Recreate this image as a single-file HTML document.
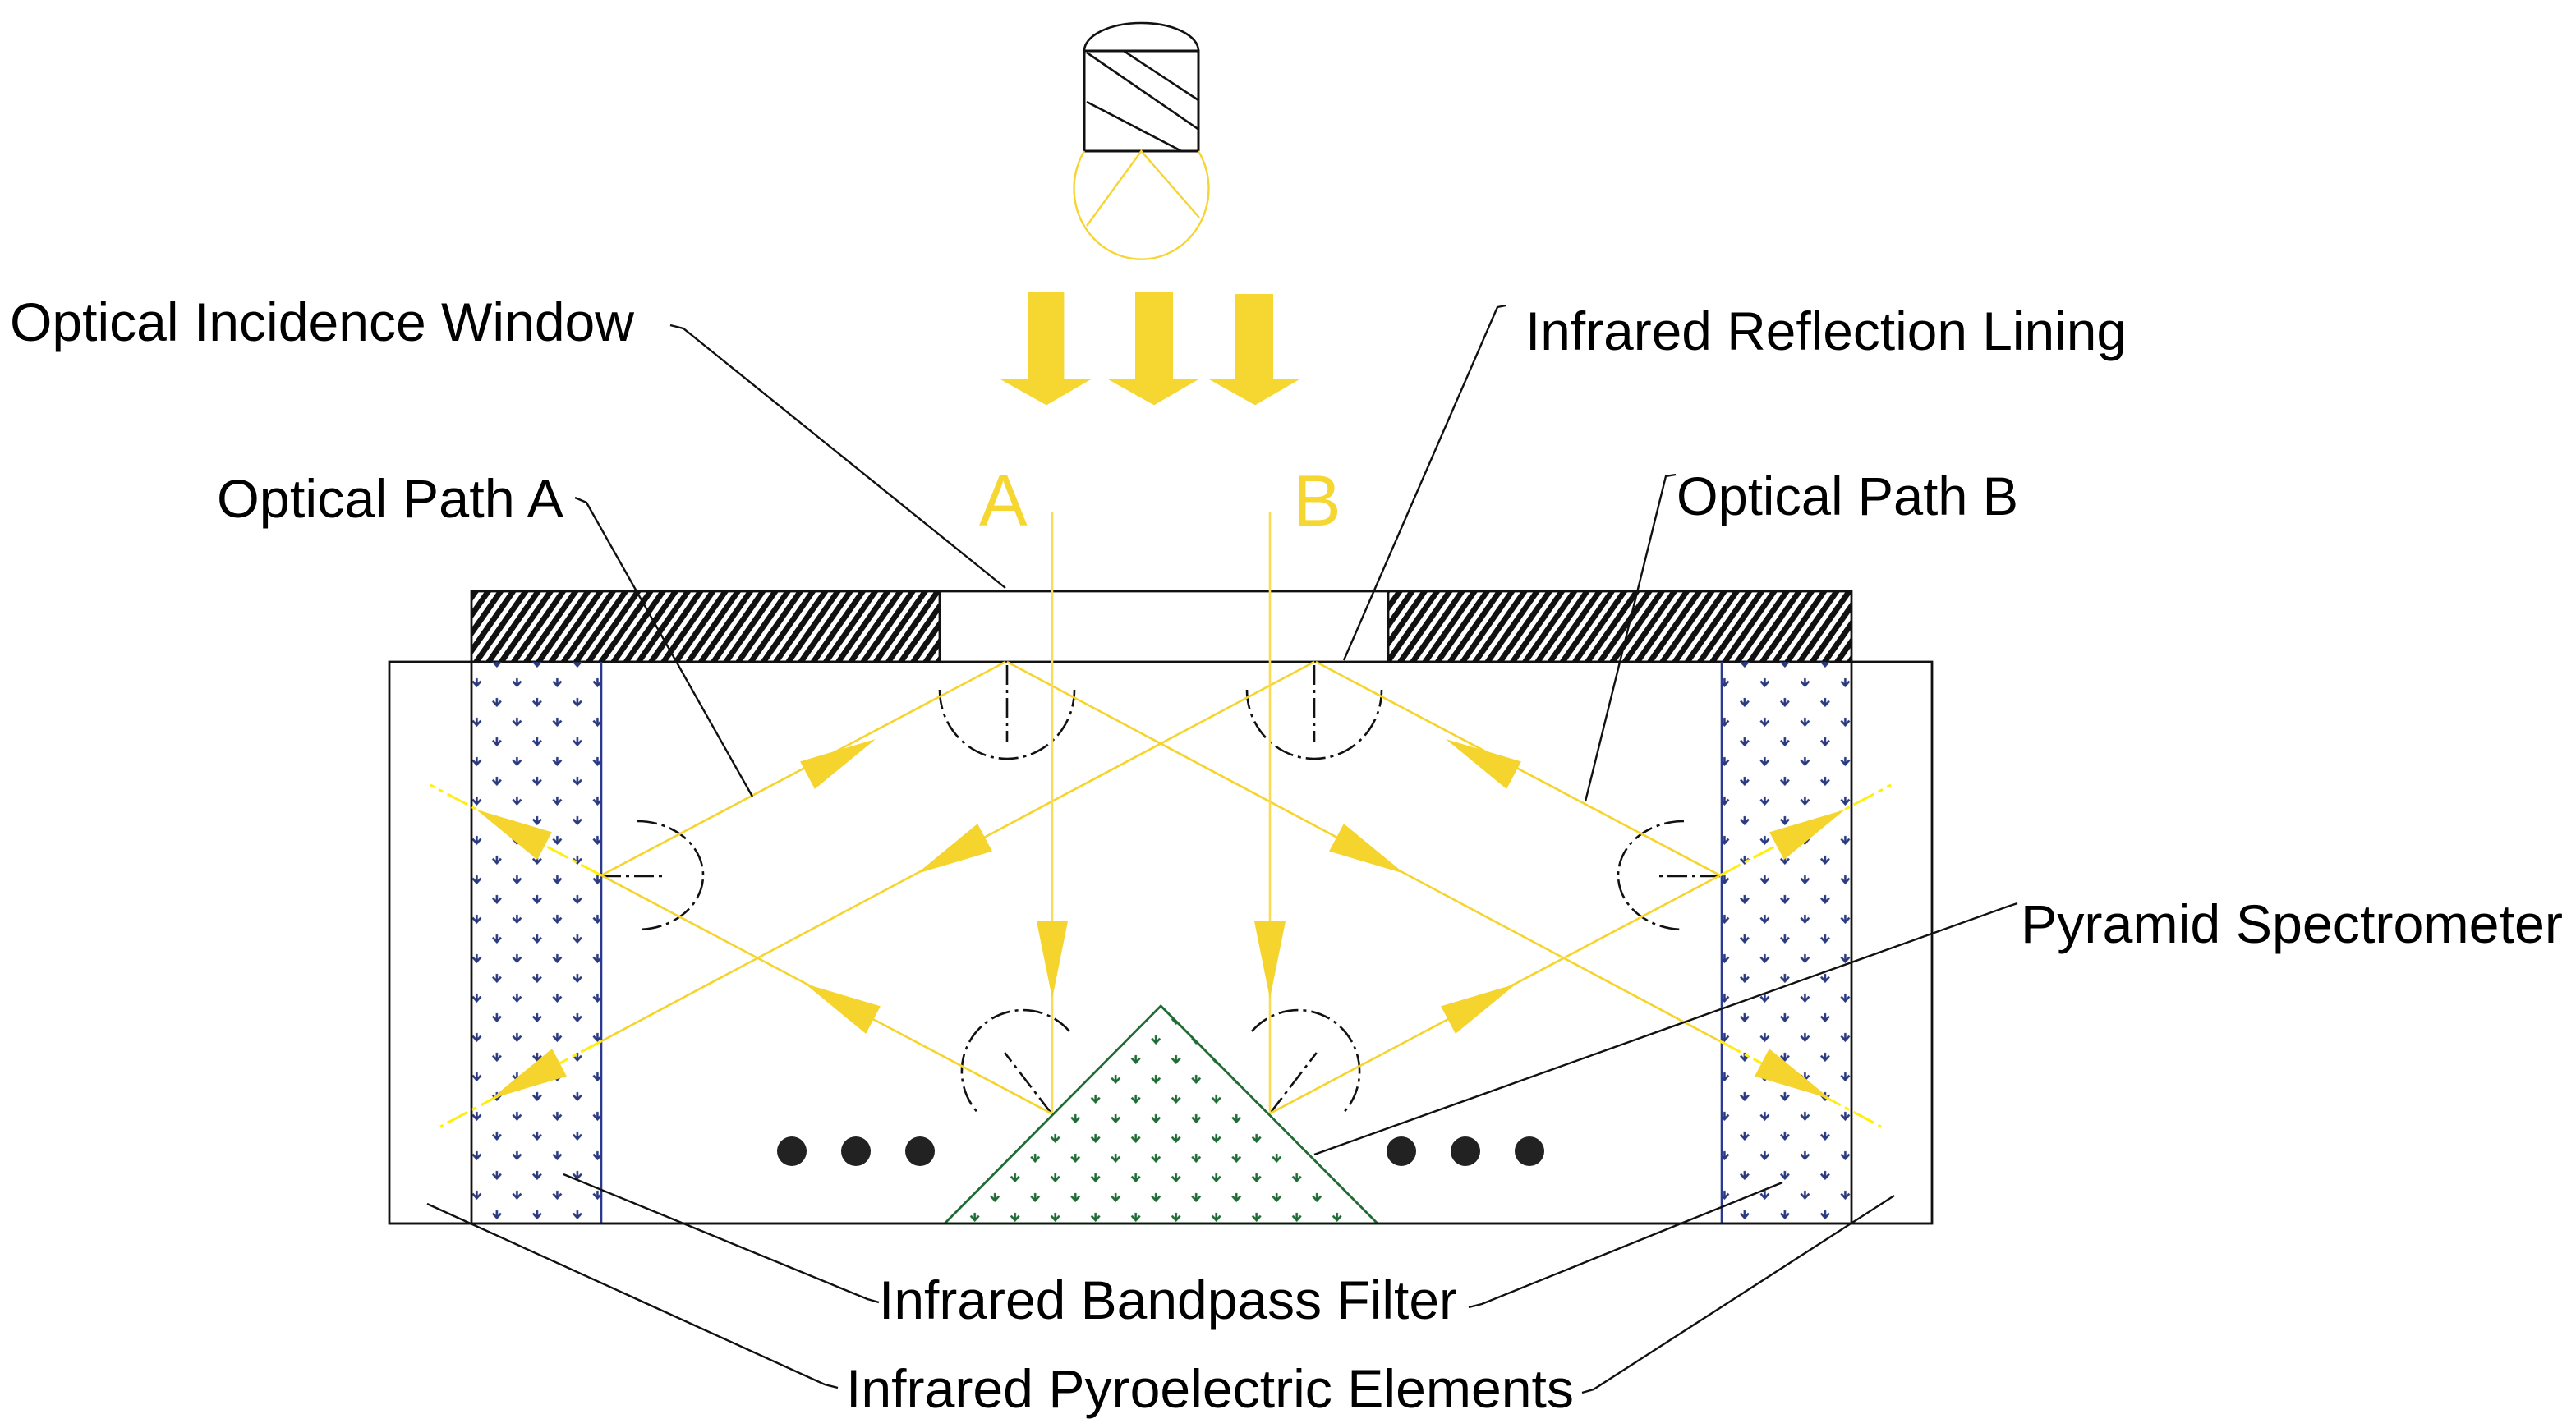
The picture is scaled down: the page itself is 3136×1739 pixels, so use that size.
<!DOCTYPE html>
<html><head><meta charset="utf-8"><style>
html,body{margin:0;padding:0;background:#fff;}
svg{display:block;}
text{font-family:"Liberation Sans",Arial,sans-serif;fill:#000;}
</style></head><body>
<svg width="3136" height="1739" viewBox="0 0 1568 869.5" xmlns="http://www.w3.org/2000/svg">
<defs>
<pattern id="hatch" patternUnits="userSpaceOnUse" width="7.6" height="20" patternTransform="skewX(-35)">
<rect x="0" y="0" width="4.2" height="20" fill="#111"/>
</pattern>
<pattern id="blue" patternUnits="userSpaceOnUse" x="1049.7" y="535.8" width="24.5" height="24">
<g stroke="#2B3A80" stroke-width="1.3" fill="none">
<path d="M-2.5,-1 L0,1.8 L2.5,-1 M0,-2.8 V1.8"/>
<path d="M22,-1 L24.5,1.8 L27,-1 M24.5,-2.8 V1.8"/>
<path d="M-2.5,23 L0,25.8 L2.5,23 M0,21.2 V25.8"/>
<path d="M22,23 L24.5,25.8 L27,23 M24.5,21.2 V25.8"/>
<path d="M9.75,11 L12.25,13.8 L14.75,11 M12.25,9.2 V13.8"/>
</g>
</pattern>
<pattern id="green" patternUnits="userSpaceOnUse" x="703.6" y="633.3" width="24.5" height="24">
<g stroke="#1E6B34" stroke-width="1.3" fill="none">
<path d="M-2.5,-1 L0,1.8 L2.5,-1 M0,-2.8 V1.8"/>
<path d="M22,-1 L24.5,1.8 L27,-1 M24.5,-2.8 V1.8"/>
<path d="M-2.5,23 L0,25.8 L2.5,23 M0,21.2 V25.8"/>
<path d="M22,23 L24.5,25.8 L27,23 M24.5,21.2 V25.8"/>
<path d="M9.75,11 L12.25,13.8 L14.75,11 M12.25,9.2 V13.8"/>
</g>
</pattern>
<polygon id="ah" points="0,0 -47,-9.5 -47,9.5" fill="#F5D42E"/>
</defs>

<!-- lamp -->
<path d="M660,31 A34.75,17 0 0 1 729.5,31" fill="none" stroke="#111" stroke-width="1.3"/>
<rect x="660" y="31" width="69.5" height="61" fill="none" stroke="#111" stroke-width="1.5"/>
<g stroke="#111" stroke-width="1.3">
<line x1="661.5" y1="32" x2="729.5" y2="78.7"/>
<line x1="684" y1="31" x2="729.5" y2="61"/>
<line x1="661.5" y1="62" x2="718.6" y2="91.7"/>
</g>
<path d="M660,92 A41,43 0 1 0 729.5,92" fill="none" stroke="#F6D532" stroke-width="1.2"/>
<polyline points="661.5,137.5 694.7,92 730,132.5" fill="none" stroke="#F6D532" stroke-width="1.2"/>

<!-- big arrows -->
<g fill="#F6D732">
<polygon points="625.5,178 647.7,178 647.7,231 664,231 637,246.7 609,231 625.5,231"/>
<polygon points="691,178 714,178 714,231 729.5,231 702.5,246.7 674.5,231 691,231"/>
<polygon points="752,179 775,179 775,231 791,231 764,246.7 736,231 752,231"/>
</g>

<!-- A / B -->
<text x="596" y="320" font-size="44" fill="#F6D732" style="fill:#F6D732">A</text>
<text x="787" y="320" font-size="44" style="fill:#F6D732">B</text>

<!-- housing -->
<rect x="237" y="403" width="939" height="342" fill="none" stroke="#111" stroke-width="1.4"/>
<rect x="287" y="360" width="285" height="43" fill="url(#hatch)" stroke="#111" stroke-width="1.4"/>
<rect x="845" y="360" width="282" height="43" fill="url(#hatch)" stroke="#111" stroke-width="1.4"/>
<line x1="572" y1="360" x2="845" y2="360" stroke="#111" stroke-width="1.4"/>

<!-- filters -->
<rect x="287" y="403" width="79" height="342" fill="url(#blue)" stroke="none"/>
<rect x="1048" y="403" width="79" height="342" fill="url(#blue)" stroke="none"/>
<line x1="287" y1="403" x2="287" y2="745" stroke="#111" stroke-width="1.4"/>
<line x1="366" y1="403" x2="366" y2="745" stroke="#2B3A90" stroke-width="1.3"/>
<line x1="1048" y1="403" x2="1048" y2="745" stroke="#2B3A90" stroke-width="1.3"/>
<line x1="1127" y1="403" x2="1127" y2="745" stroke="#111" stroke-width="1.4"/>

<!-- pyramid -->
<polygon points="575,745 706.6,612.5 838.5,745" fill="url(#green)" stroke="#1E6B34" stroke-width="1.4"/>
<line x1="237" y1="745" x2="1176" y2="745" stroke="#111" stroke-width="1.4"/>

<!-- dash-dot arcs -->
<g fill="none" stroke="#111" stroke-width="1.3" stroke-dasharray="12 3 2 3">
<path d="M572,420 A41,42 0 0 0 654,420"/>
<path d="M759,420 A41,42 0 0 0 841,420"/>
<line x1="613" y1="405" x2="613" y2="452"/>
<line x1="800" y1="405" x2="800" y2="452"/>
<path d="M388,500 A40,33 0 0 1 388,566"/>
<path d="M1025,500 A40,33 0 0 0 1025,566"/>
<line x1="366" y1="533.5" x2="404" y2="533.5"/>
<line x1="1047" y1="533.5" x2="1009" y2="533.5"/>
<path d="M651,628 A36,36 0 1 0 594.5,676.7"/>
<path d="M762,628 A36,36 0 1 1 818.5,676.7"/>
<line x1="640" y1="678" x2="611.6" y2="641"/>
<line x1="773" y1="678" x2="801.4" y2="641"/>
</g>

<!-- dots -->
<g fill="#222">
<circle cx="482" cy="701" r="9"/><circle cx="521" cy="701" r="9"/><circle cx="560" cy="701" r="9"/>
<circle cx="853" cy="701" r="9"/><circle cx="892" cy="701" r="9"/><circle cx="931" cy="701" r="9"/>
</g>

<!-- rays -->
<g stroke="#F5D42E" stroke-width="1.3" fill="none">
<line x1="366" y1="533" x2="612" y2="403"/>
<line x1="1047" y1="533" x2="801" y2="403"/>
<line x1="800" y1="403" x2="366" y2="634"/>
<line x1="613" y1="403" x2="1047" y2="634"/>
<line x1="640" y1="678" x2="366" y2="533"/>
<line x1="773" y1="678" x2="1047" y2="533"/>
</g>
<g stroke="#FFEE10" stroke-width="1.5" fill="none" stroke-dasharray="14 3 3 3">
<line x1="366" y1="634" x2="268" y2="686"/>
<line x1="1047" y1="634" x2="1145" y2="686"/>
<line x1="366" y1="533" x2="262" y2="478"/>
<line x1="1047" y1="533" x2="1151" y2="478"/>
</g>
<g stroke="#F8DC55" stroke-width="1.3">
<line x1="640.5" y1="312" x2="640.5" y2="678"/>
<line x1="773" y1="312" x2="773" y2="678"/>
</g>

<!-- ray arrowheads -->
<use href="#ah" transform="translate(533,450) rotate(-28)"/>
<use href="#ah" transform="translate(558,532) rotate(152)"/>
<use href="#ah" transform="translate(299,669) rotate(152)"/>
<use href="#ah" transform="translate(490,599) rotate(-152)"/>
<use href="#ah" transform="translate(290,493) rotate(-152)"/>
<use href="#ah" transform="translate(880,450) rotate(-152)"/>
<use href="#ah" transform="translate(855,532) rotate(28)"/>
<use href="#ah" transform="translate(1114,669) rotate(28)"/>
<use href="#ah" transform="translate(923,599) rotate(-28)"/>
<use href="#ah" transform="translate(1123,493) rotate(-28)"/>
<use href="#ah" transform="translate(640.5,608) rotate(90)"/>
<use href="#ah" transform="translate(773,608) rotate(90)"/>

<!-- leader lines -->
<g stroke="#111" stroke-width="1.2" fill="none">
<polyline points="408,198 416,200 612,358"/>
<polyline points="916.7,186 911.5,187 818,402"/>
<polyline points="350,303 357,306 458,485"/>
<polyline points="1020,289 1014,290 965,488"/>
<polyline points="1228,550 1222,552 800,703"/>
<polyline points="535,793 528,791 343,715"/>
<polyline points="894,796 902,794 1085,720"/>
<polyline points="510,845 502,843 260,733"/>
<polyline points="963,848 970,846 1153,728"/>
</g>

<!-- labels -->
<g font-size="33">
<text x="6" y="207.5" textLength="380" lengthAdjust="spacingAndGlyphs">Optical Incidence Window</text>
<text x="928.5" y="213" textLength="366" lengthAdjust="spacingAndGlyphs">Infrared Reflection Lining</text>
<text x="132" y="315" textLength="211" lengthAdjust="spacingAndGlyphs">Optical Path A</text>
<text x="1020.5" y="313.5" textLength="208" lengthAdjust="spacingAndGlyphs">Optical Path B</text>
<text x="1230" y="574" textLength="330" lengthAdjust="spacingAndGlyphs">Pyramid Spectrometer</text>
<text x="535" y="803" textLength="352" lengthAdjust="spacingAndGlyphs">Infrared Bandpass Filter</text>
<text x="515" y="857" textLength="443" lengthAdjust="spacingAndGlyphs">Infrared Pyroelectric Elements</text>
</g>
</svg>
</body></html>
